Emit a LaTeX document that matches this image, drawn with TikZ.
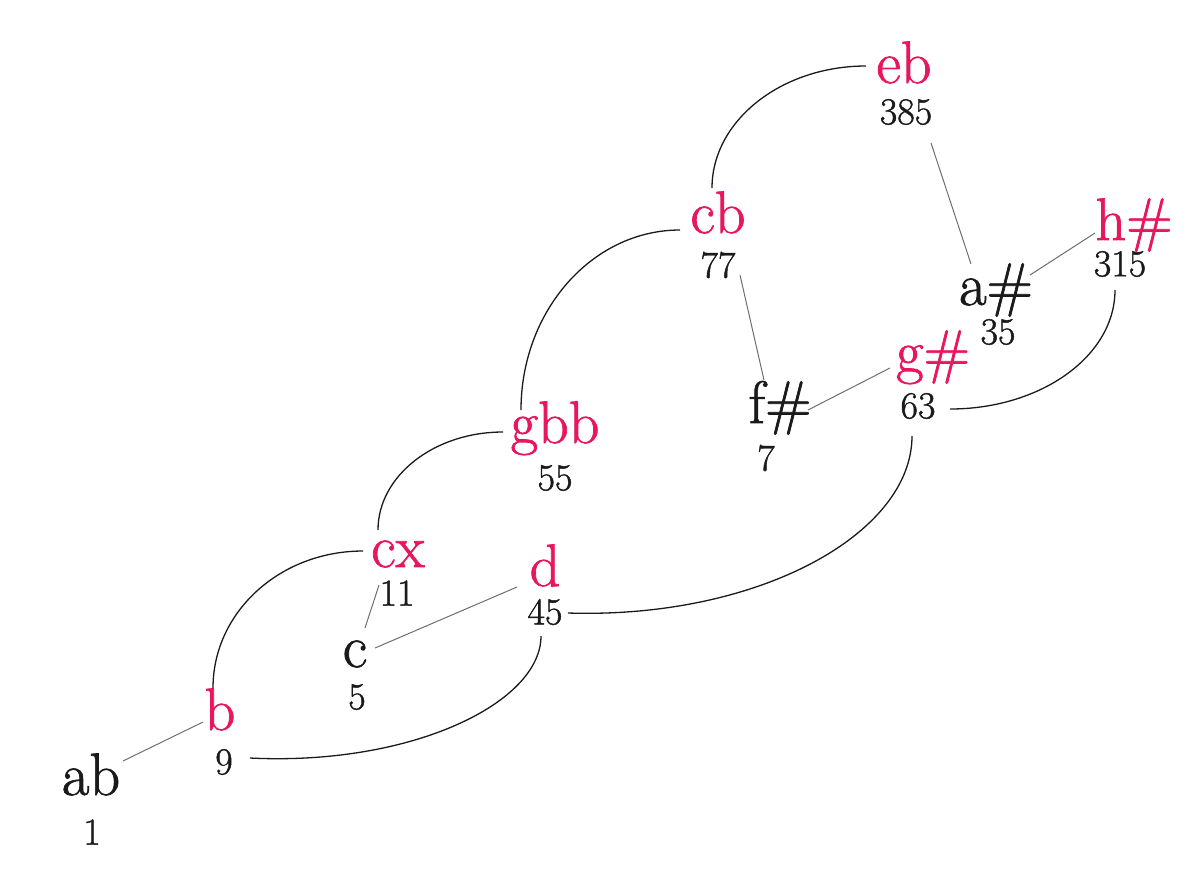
\documentclass[tikz,border=0pt]{standalone}
\usepackage{fontspec}
\setmainfont{Latin Modern Roman}[RawFeature={embolden=1.2}]
\definecolor{notepink}{RGB}{232,23,93}
\definecolor{ink}{RGB}{26,26,26}
\definecolor{linkgray}{RGB}{110,110,110}
\begin{document}
\begin{tikzpicture}[x=0.5pt,y=-0.5pt,
  lab/.style={anchor=base,inner sep=0pt,font=\fontsize{30}{30}\selectfont,text=ink},
  hl/.style={lab,text=notepink},
  num/.style={anchor=center,inner sep=0pt,font=\fontsize{19}{19}\selectfont,text=ink},
  curvelink/.style={draw=ink,line width=0.65pt},
  straightlink/.style={draw=linkgray,line width=0.5pt}]
\useasboundingbox (0,0) rectangle (1200,875);
% labels
\node[lab] (ab)  at (91,795)  {ab};
\node[hl]  (b)   at (220,730) {b};
\node[hl]  (cx)  at (398,567) {cx};
\node[lab] (c)   at (355,667) {c};
\node[hl]  (d)   at (545,586) {d};
\node[hl]  (gbb) at (555,443) {gbb};
\node[hl]  (cb)  at (718,233) {cb};
\node[lab] (fs)  at (780,423) {f\#};
\node[hl]  (gs)  at (933,372) {g\#};
\node[hl]  (eb)  at (904,83)  {eb};
\node[lab] (as)  at (996,305) {a\#};
\node[hl]  (hs)  at (1134,240) {h\#};
% numbers
\node[num] (n1)   at (92,832)   {1};
\node[num] (n9)   at (224,762)  {9};
\node[num] (n11)  at (397,593)  {11};
\node[num] (n5)   at (357,697)  {5};
\node[num] (n45)  at (545,612)  {45};
\node[num] (n55)  at (555,478)  {55};
\node[num] (n77)  at (718,265)  {77};
\node[num] (n7)   at (766,458)  {7};
\node[num] (n63)  at (918,406)  {63};
\node[num] (n385) at (906,112)  {385};
\node[num] (n35)  at (998,332)  {35};
\node[num] (n315) at (1120,264) {315};
% curved connectors
\draw[curvelink] ([shift={(-6,-45)}]cb.base) .. controls +(0,-67) and +(-85,0) .. ([shift={(-38,-17)}]eb.base);
\draw[curvelink] ([shift={(-34,-33)}]gbb.base) .. controls +(0,-99) and +(-88,0) .. ([shift={(-38,-3)}]cb.base);
\draw[curvelink] ([shift={(-20,-37)}]cx.base) .. controls +(0,-54) and +(-69,0) .. ([shift={(-52,-11)}]gbb.base);
\draw[curvelink] ([shift={(-7,-42)}]b.base) .. controls +(0,-76) and +(-83,0) .. ([shift={(-35,-16)}]cx.base);
\draw[curvelink] ([shift={(26,-4)}]n9.center) .. controls +(161,8) and +(0,67) .. ([shift={(-4,24)}]n45.center);
\draw[curvelink] ([shift={(23,1)}]n45.center) .. controls +(190,6) and +(0,98) .. ([shift={(-6,30)}]n63.center);
\draw[curvelink] ([shift={(32,3)}]n63.center) .. controls +(91,0) and +(0,66) .. ([shift={(-5,26)}]n315.center);
% straight connectors
\draw[straightlink] ([shift={(32,-34)}]ab.base) -- ([shift={(-17,-8)}]b.base);
\draw[straightlink] ([shift={(10,-39)}]c.base) -- ([shift={(-18,-8)}]n11.center);
\draw[straightlink] ([shift={(20,-19)}]c.base) -- ([shift={(-28,1)}]d.base);
\draw[straightlink] ([shift={(22,10)}]n77.center) -- ([shift={(-16,-43)}]fs.base);
\draw[straightlink] ([shift={(28,-13)}]fs.base) -- ([shift={(-43,-4)}]gs.base);
\draw[straightlink] ([shift={(25,31)}]n385.center) -- ([shift={(-25,-41)}]as.base);
\draw[straightlink] ([shift={(34,-30)}]as.base) -- ([shift={(-39,-7)}]hs.base);
\end{tikzpicture}
\end{document}
